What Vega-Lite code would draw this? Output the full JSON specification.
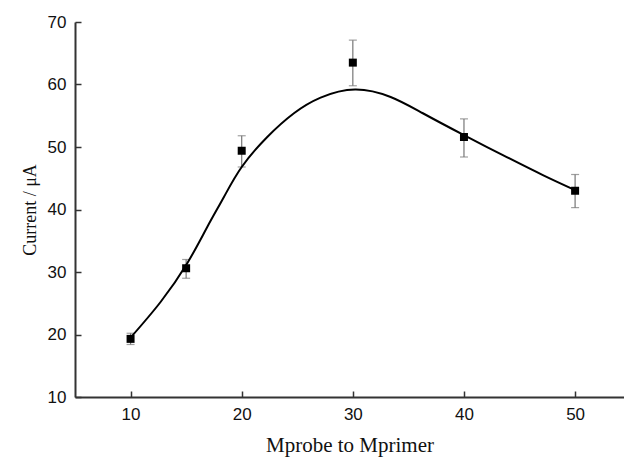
{
  "$schema": "https://vega.github.io/schema/vega-lite/v6.json",
  "width": 549,
  "height": 375,
  "autosize": {"type": "none"},
  "padding": {"left": 75, "top": 22, "right": 0, "bottom": 66},
  "background": "white",
  "config": {
    "view": {"stroke": null},
    "axis": {
      "grid": false,
      "domainColor": "#333333",
      "domainWidth": 2,
      "tickColor": "#333333",
      "tickWidth": 1.5,
      "labelFont": "Liberation Sans",
      "labelFontSize": 17,
      "labelColor": "#111111",
      "titleFont": "Liberation Serif",
      "titleFontWeight": "normal",
      "titleColor": "#111111"
    }
  },
  "datasets": {
    "points": [
      {"ratio": 10, "current": 19.3, "lo": 18.4, "hi": 20.2},
      {"ratio": 15, "current": 30.6, "lo": 29.0, "hi": 32.0},
      {"ratio": 20, "current": 49.4, "lo": 46.8, "hi": 51.8},
      {"ratio": 30, "current": 63.5, "lo": 59.8, "hi": 67.1},
      {"ratio": 40, "current": 51.6, "lo": 48.4, "hi": 54.5},
      {"ratio": 50, "current": 43.0, "lo": 40.3, "hi": 45.6}
    ],
    "curve": [
      {"ratio": 10.0, "current": 19.5},
      {"ratio": 12.7, "current": 25.2},
      {"ratio": 15.1, "current": 31.4},
      {"ratio": 16.9, "current": 37.2},
      {"ratio": 18.4, "current": 42.0},
      {"ratio": 20.0, "current": 46.8},
      {"ratio": 22.3, "current": 51.6},
      {"ratio": 24.7, "current": 55.4},
      {"ratio": 27.1, "current": 57.9},
      {"ratio": 30.2, "current": 59.2},
      {"ratio": 33.4, "current": 58.0},
      {"ratio": 36.3, "current": 55.4},
      {"ratio": 40.0, "current": 51.9},
      {"ratio": 43.5, "current": 48.7},
      {"ratio": 47.1, "current": 45.5},
      {"ratio": 50.0, "current": 43.1}
    ]
  },
  "resolve": {"axis": {"x": "independent", "y": "independent"}},
  "layer": [
    {
      "mark": {"type": "rule", "color": "#333333", "strokeWidth": 2},
      "encoding": {
        "y": {"datum": 70, "type": "quantitative", "scale": {"domain": [10, 70], "nice": false, "zero": false}, "axis": null}
      }
    },
    {
      "data": {"name": "points"},
      "mark": {"type": "rule", "color": "#777777", "strokeWidth": 1.2},
      "encoding": {
        "x": {
          "field": "ratio",
          "type": "quantitative",
          "axis": {"orient": "top", "offset": -375, "values": [10, 20, 30, 40, 50], "labels": false, "domain": false, "title": null, "ticks": true, "tickSize": 6}
        },
        "y": {
          "field": "lo",
          "type": "quantitative",
          "axis": {"orient": "right", "offset": -549, "values": [10, 20, 30, 40, 50, 60, 70], "labels": false, "domain": false, "title": null, "ticks": true, "tickSize": 6}
        },
        "y2": {"field": "hi"}
      }
    },
    {
      "data": {"name": "points"},
      "mark": {"type": "tick", "orient": "horizontal", "color": "#777777", "size": 8, "thickness": 1.2},
      "encoding": {
        "x": {"field": "ratio", "type": "quantitative", "axis": null},
        "y": {"field": "lo", "type": "quantitative", "axis": null}
      }
    },
    {
      "data": {"name": "points"},
      "mark": {"type": "tick", "orient": "horizontal", "color": "#777777", "size": 8, "thickness": 1.2},
      "encoding": {
        "x": {"field": "ratio", "type": "quantitative", "axis": null},
        "y": {"field": "hi", "type": "quantitative", "axis": null}
      }
    },
    {
      "data": {"name": "curve"},
      "mark": {"type": "line", "color": "#000000", "strokeWidth": 2, "interpolate": "natural"},
      "encoding": {
        "x": {"field": "ratio", "type": "quantitative", "axis": null},
        "y": {"field": "current", "type": "quantitative", "axis": null}
      }
    },
    {
      "data": {"name": "points"},
      "mark": {"type": "square", "filled": true, "color": "#000000", "size": 64, "opacity": 1},
      "encoding": {
        "x": {
          "field": "ratio",
          "type": "quantitative",
          "scale": {"domain": [5, 54.4], "nice": false, "zero": false},
          "axis": {"orient": "bottom", "values": [10, 20, 30, 40, 50], "ticks": false, "labelPadding": 9, "title": "Mprobe to Mprimer", "titleFontSize": 21, "titlePadding": 12}
        },
        "y": {
          "field": "current",
          "type": "quantitative",
          "scale": {"domain": [10, 70], "nice": false, "zero": false},
          "axis": {"orient": "left", "values": [10, 20, 30, 40, 50, 60, 70], "ticks": false, "labelPadding": 9, "title": "Current / μA", "titleFontSize": 18, "titlePadding": 8}
        }
      }
    }
  ]
}
